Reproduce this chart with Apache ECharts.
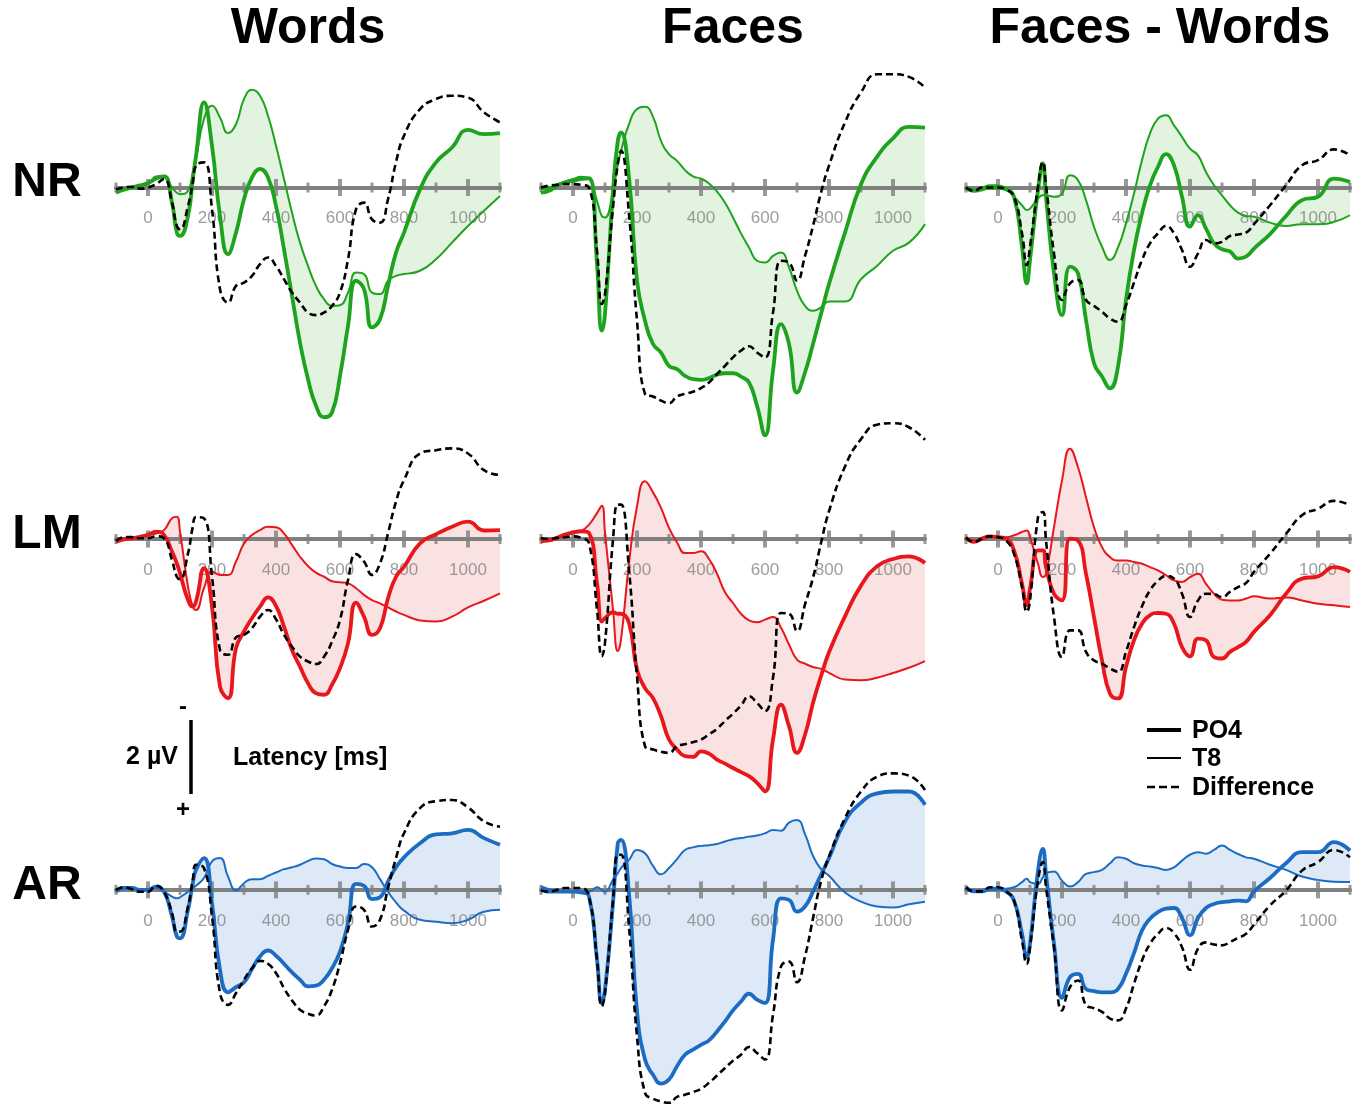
<!DOCTYPE html>
<html><head><meta charset="utf-8">
<script src="https://cdn.jsdelivr.net/npm/echarts@6/dist/echarts.min.js"></script>
<style>html,body{margin:0;padding:0;background:#fff}#c{width:1359px;height:1108px}</style>
</head><body><div id="c"></div><script>
// time points (ms)
const TIMES = [-100,-75,-50,-25,0,25,50,75,90,100,125,140,150,175,200,225,250,275,300,325,350,375,400,425,450,475,500,525,550,575,600,625,650,675,700,725,750,775,800,850,900,950,1000,1050,1100];
// values in microvolts (positive plotted downward)
const NR_WORDS_PO4 = [0.14,0.06,0,-0.06,-0.12,-0.24,-0.30,0.41,1.22,1.31,0.77,-0.23,-0.86,-2.30,-1.13,0.77,1.80,1.22,0.32,-0.27,-0.50,-0.27,0.50,1.67,2.93,4.19,5.18,5.90,6.21,6.08,5.09,3.74,2.52,2.75,3.78,3.56,2.66,1.76,1.22,0.05,-0.68,-1.08,-1.56,-1.44,-1.47];
const NR_WORDS_T8 = [0.12,0.05,0,-0.05,-0.09,-0.30,-0.32,0,0.14,0.18,0.09,-0.41,-0.77,-1.85,-2.21,-1.89,-1.47,-1.71,-2.39,-2.64,-2.48,-1.94,-1.13,-0.23,0.68,1.49,2.12,2.66,3.02,3.20,3.18,2.84,2.30,2.34,2.84,2.88,2.52,2.39,2.34,2.25,1.94,1.49,1.04,0.63,0.23];
const NR_WORDS_DIFF = [0.05,0,-0.02,0.03,0,-0.09,-0.23,0.41,1.04,1.13,0.50,-0.14,-0.59,-0.68,0.59,2.75,3.11,2.66,2.57,2.39,2.07,1.89,2.12,2.48,2.84,3.11,3.38,3.45,3.38,3.20,2.84,1.94,0.59,0.41,0.86,0.95,0.32,-0.68,-1.40,-2.12,-2.39,-2.48,-2.43,-2.03,-1.76];
const NR_FACES_PO4 = [0.14,0.09,-0.05,-0.14,-0.18,-0.23,-0.25,2.07,3.87,3.42,0.09,-1.26,-1.49,-0.27,2.52,3.60,4.23,4.46,4.82,4.91,5.09,5.18,5.20,5.15,5.06,5.02,5.02,5.11,5.27,5.90,6.70,4.95,3.69,4.23,5.54,5.00,4.23,3.42,2.61,1.22,-0.09,-0.83,-1.33,-1.64,-1.62];
const NR_FACES_T8 = [0.05,0,-0.09,-0.16,-0.23,-0.29,-0.23,0.36,0.77,0.81,0.09,-0.63,-0.99,-1.71,-2.12,-2.18,-1.91,-1.26,-0.90,-0.72,-0.47,-0.30,-0.24,-0.11,0.11,0.41,0.81,1.24,1.62,1.98,2.03,1.85,1.76,2.16,2.79,3.20,3.33,3.24,3.08,3.08,2.48,2.12,1.71,1.49,0.99];
const NR_FACES_DIFF = [0,-0.05,-0.07,-0.09,-0.09,-0.07,0,1.71,3.15,2.88,0.54,-0.63,-0.99,0.72,3.60,5.58,5.65,5.76,5.83,5.65,5.58,5.52,5.42,5.27,5.04,4.82,4.59,4.41,4.29,4.46,4.59,3.38,1.98,2.03,2.52,1.85,1.04,0.14,-0.59,-1.76,-2.57,-3.06,-3.06,-2.99,-2.70];
const NR_FW_PO4 = [0,0.09,0.05,0,0,0.05,0.25,1.60,2.59,1.96,0.07,-0.65,0.25,2.32,3.45,2.14,2.32,3.58,4.75,5.11,5.43,4.84,3.04,1.69,0.70,-0.06,-0.56,-0.90,-0.60,0.25,1.06,0.75,1.11,1.51,1.67,1.73,1.92,1.87,1.65,1.26,0.77,0.34,0.25,-0.24,-0.15];
const NR_FW_T8 = [0,0.07,0,-0.06,-0.06,0.03,0.25,0.48,0.61,0.57,0.30,0.21,0.21,0.25,0.16,-0.33,-0.20,0.34,1.06,1.60,1.96,1.62,0.97,0.16,-0.74,-1.46,-1.86,-1.95,-1.68,-1.37,-1.05,-0.87,-0.42,-0.06,0.21,0.48,0.68,0.77,0.79,0.95,1.04,0.99,0.99,0.93,0.75];
const NR_FW_DIFF = [0,0.09,0,0,0,0.05,0.25,1.24,2.10,1.60,-0.02,-0.69,-0.06,1.78,3.04,2.59,2.50,3.04,3.20,3.36,3.54,3.63,3.18,2.57,1.96,1.51,1.24,1.04,1.24,1.69,2.14,1.78,1.42,1.51,1.47,1.31,1.27,1.22,0.99,0.48,-0.06,-0.60,-0.74,-1.03,-0.87];
const LM_WORDS_PO4 = [0.07,0.01,-0.02,-0.06,-0.11,-0.20,-0.11,0.34,0.66,0.93,1.65,1.83,1.69,0.79,1.83,3.99,4.30,2.95,2.50,2.14,1.83,1.58,1.81,2.37,3.00,3.45,3.90,4.17,4.21,3.94,3.49,2.82,1.72,2.10,2.59,2.41,1.60,1.02,0.75,0.12,-0.13,-0.33,-0.47,-0.23,-0.24];
const LM_WORDS_T8 = [0.07,-0.02,-0.05,-0.06,-0.11,-0.15,-0.24,-0.56,-0.60,-0.20,1.29,1.83,1.92,1.33,0.88,0.97,0.97,0.61,0.12,-0.11,-0.24,-0.33,-0.32,-0.15,0.16,0.48,0.73,0.91,1.02,1.14,1.17,1.20,1.33,1.51,1.65,1.74,1.85,1.96,2.05,2.20,2.23,2.10,1.85,1.67,1.47];
const LM_WORDS_DIFF = [0.05,-0.05,-0.05,-0.02,-0.02,-0.08,-0.02,0.57,1.02,1.09,0.39,-0.33,-0.59,-0.56,1.02,3.00,3.13,2.66,2.59,2.41,2.10,1.92,2.17,2.59,2.91,3.18,3.31,3.38,3.18,2.77,2.19,1.11,0.41,0.61,0.97,0.66,-0.15,-1.01,-1.59,-2.31,-2.40,-2.45,-2.31,-1.86,-1.73];
const LM_FACES_PO4 = [0.06,0.04,-0.03,-0.12,-0.18,-0.21,-0.16,1.19,2.23,2.14,1.98,2.02,2.02,2.27,3.53,4.03,4.30,4.79,5.42,5.69,5.87,5.89,5.74,5.80,5.96,6.07,6.19,6.30,6.41,6.59,6.82,5.42,4.48,5.06,5.78,5.29,4.43,3.71,3.06,2.09,1.26,0.74,0.54,0.47,0.65];
const LM_FACES_T8 = [0.02,0,-0.05,-0.12,-0.16,-0.21,-0.39,-0.70,-0.90,-0.16,1.91,3.03,2.72,0.65,-0.88,-1.56,-1.26,-0.84,-0.30,0.09,0.38,0.38,0.33,0.54,0.94,1.44,1.73,2.02,2.20,2.25,2.18,2.11,2.40,2.85,3.26,3.37,3.46,3.51,3.62,3.80,3.82,3.75,3.62,3.48,3.30];
const LM_FACES_DIFF = [-0.03,0,-0.03,-0.05,-0.07,-0.03,0.11,1.91,3.17,2.81,0.02,-0.93,-0.93,0.83,3.71,5.60,5.69,5.75,5.78,5.60,5.55,5.49,5.42,5.28,5.13,4.92,4.72,4.50,4.25,4.43,4.65,3.75,2.00,2.02,2.49,1.77,1.05,0.11,-0.75,-1.96,-2.70,-3.09,-3.13,-3.02,-2.68];
const LM_FW_PO4 = [-0.04,0.08,-0.01,-0.07,-0.05,-0.01,0.31,1.21,1.79,1.34,0.31,0.31,0.76,1.48,1.66,-0.01,0.04,0.94,2.11,3.28,4.18,4.31,3.46,2.74,2.29,2.06,2.00,2.02,2.29,2.92,3.17,2.69,2.74,3.19,3.23,3.05,2.92,2.78,2.51,2.06,1.48,1.07,1.01,0.76,0.89];
const LM_FW_T8 = [-0.04,0.04,-0.01,-0.07,-0.05,-0.05,-0.10,-0.19,-0.23,-0.05,0.67,1.03,0.94,-0.32,-1.58,-2.44,-1.94,-1.13,-0.32,0.22,0.49,0.58,0.58,0.62,0.67,0.76,0.85,0.98,1.12,1.16,1.03,0.94,1.21,1.48,1.64,1.66,1.66,1.61,1.55,1.61,1.58,1.66,1.75,1.79,1.84];
const LM_FW_DIFF = [-0.04,0.08,-0.01,-0.07,-0.05,0.04,0.40,1.30,1.97,1.66,-0.59,-0.73,0.04,2.11,3.19,2.47,2.47,3.05,3.28,3.37,3.50,3.59,3.05,2.38,1.82,1.39,1.13,1.00,1.07,1.48,2.11,1.66,1.48,1.49,1.57,1.43,1.30,1.19,0.89,0.40,-0.14,-0.64,-0.82,-1.03,-0.91];
const AR_WORDS_PO4 = [0.05,-0.05,-0.05,0,0,-0.09,0.05,0.72,1.26,1.31,0.54,-0.18,-0.54,-0.86,0.36,2.16,2.77,2.63,2.50,2.14,1.80,1.64,1.78,2.00,2.23,2.43,2.61,2.59,2.43,2.12,1.67,0.90,-0.16,-0.11,0.25,0.20,-0.23,-0.61,-0.88,-1.26,-1.50,-1.53,-1.62,-1.40,-1.22];
const AR_WORDS_T8 = [0,-0.05,-0.05,0.02,0,-0.05,0.05,0.18,0.23,0.20,0.05,-0.05,-0.11,-0.32,-0.77,-0.86,-0.36,0.02,-0.18,-0.29,-0.29,-0.38,-0.47,-0.56,-0.61,-0.68,-0.78,-0.85,-0.83,-0.70,-0.63,-0.59,-0.59,-0.70,-0.61,-0.29,0.05,0.34,0.56,0.81,0.86,0.90,0.81,0.59,0.54];
const AR_WORDS_DIFF = [0,-0.07,-0.02,0.05,0.05,-0.11,0.05,0.63,1.13,1.13,0.45,-0.27,-0.68,-0.59,0.72,2.79,3.11,2.79,2.43,2.12,1.92,2.00,2.25,2.66,2.99,3.24,3.35,3.40,3.15,2.70,1.98,1.08,0.45,0.54,0.99,0.81,-0.05,-0.86,-1.53,-2.21,-2.40,-2.43,-2.23,-1.85,-1.71];
const AR_FACES_PO4 = [-0.05,0.05,0.05,0.05,0.05,0.07,0.18,1.89,3.06,2.70,0.36,-1.26,-1.35,0.09,3.29,4.59,5.00,5.24,5.13,4.77,4.46,4.32,4.19,4.07,3.83,3.56,3.26,3.02,2.81,2.97,3.06,1.35,0.23,0.27,0.59,0.45,0.05,-0.41,-0.86,-1.85,-2.36,-2.61,-2.66,-2.66,-2.30];
const AR_FACES_T8 = [-0.09,-0.02,0.03,0.05,0.05,0.05,0.05,-0.07,0,0.05,-0.27,-0.45,-0.59,-0.81,-1.08,-0.99,-0.65,-0.42,-0.59,-0.83,-1.08,-1.15,-1.19,-1.21,-1.24,-1.31,-1.37,-1.40,-1.44,-1.47,-1.53,-1.62,-1.60,-1.82,-1.89,-1.51,-0.92,-0.56,-0.38,0.07,0.32,0.45,0.48,0.39,0.32];
const AR_FACES_DIFF = [0.02,0.05,0,-0.05,-0.05,-0.05,0.18,1.89,3.15,2.79,0.27,-0.95,-0.95,0.99,3.96,5.49,5.65,5.72,5.76,5.60,5.54,5.47,5.38,5.22,5.02,4.82,4.62,4.46,4.25,4.41,4.59,3.38,2.07,1.94,2.50,1.80,0.77,-0.23,-0.90,-1.94,-2.66,-3.06,-3.15,-3.09,-2.70];
const AR_FW_PO4 = [-0.07,0.04,0.04,-0.03,-0.03,0.04,0.29,1.19,1.82,1.46,-0.52,-1.11,-0.43,1.46,2.92,2.36,2.27,2.68,2.74,2.77,2.77,2.68,2.27,1.71,1.10,0.78,0.60,0.51,0.49,0.76,1.23,0.76,0.49,0.38,0.33,0.31,0.29,0.31,0.04,-0.32,-0.72,-1.02,-1.02,-1.29,-1.06];
const AR_FW_T8 = [-0.03,0.04,0.02,-0.03,-0.03,-0.03,-0.07,-0.21,-0.30,-0.21,-0.16,-0.34,-0.45,-0.50,-0.25,-0.09,-0.21,-0.43,-0.48,-0.54,-0.72,-0.88,-0.84,-0.72,-0.66,-0.63,-0.59,-0.54,-0.61,-0.79,-0.95,-1.02,-0.98,-1.08,-1.20,-1.08,-0.97,-0.88,-0.84,-0.68,-0.54,-0.36,-0.27,-0.22,-0.21];
const AR_FW_DIFF = [-0.07,0.04,0.04,-0.07,-0.07,0.04,0.29,1.37,2.00,1.55,-0.25,-0.75,-0.07,1.55,3.26,2.63,2.45,3.12,3.20,3.30,3.48,3.53,3.21,2.54,1.91,1.46,1.19,1.03,1.17,1.55,2.16,1.59,1.42,1.48,1.50,1.41,1.30,1.19,0.94,0.42,0.02,-0.52,-0.75,-1.08,-0.88];

const ROW_NAMES = ['NR','LM','AR'];
const COL_NAMES = ['Words','Faces','Faces - Words'];
const TICK_LABELS = [0,200,400,600,800,1000];
const MAJOR_TICKS = [0,200,400,600,800,1000];
const MINOR_TICKS = [-100,100,300,500,700,900,1100];
const LEGEND_NAMES = ['PO4','T8','Difference'];

const PANELS = [
  [[NR_WORDS_PO4,NR_WORDS_T8,NR_WORDS_DIFF],[NR_FACES_PO4,NR_FACES_T8,NR_FACES_DIFF],[NR_FW_PO4,NR_FW_T8,NR_FW_DIFF]],
  [[LM_WORDS_PO4,LM_WORDS_T8,LM_WORDS_DIFF],[LM_FACES_PO4,LM_FACES_T8,LM_FACES_DIFF],[LM_FW_PO4,LM_FW_T8,LM_FW_DIFF]],
  [[AR_WORDS_PO4,AR_WORDS_T8,AR_WORDS_DIFF],[AR_FACES_PO4,AR_FACES_T8,AR_FACES_DIFF],[AR_FW_PO4,AR_FW_T8,AR_FW_DIFF]]
];
const ROW_COLORS = [
  {line:'#1ea31e', fill:'#e2f3e0'},
  {line:'#e8171c', fill:'#fbe2e2'},
  {line:'#1c6cc4', fill:'#dde9f6'}
];

const FONT = '"Liberation Sans", Arial, Helvetica, sans-serif';
const COL_LEFT = [116, 541, 966];
const ROW_ZERO = [187.5, 539, 890];
const PX_PER_UV = 37;
const Y_RANGE = [[-4.6,7.3],[-4.6,7.3],[-4.6,5.9]];
const PLOT_W = 384;

const grids=[], xAxes=[], yAxes=[], series=[];
const pairs = arr => TIMES.map((t,k)=>[t, arr[k]]);
// swapped pairs so that the value (y) is the first, stacked dimension
const swapped = arr => TIMES.map((t,k)=>[arr[k], t]);
const SM = 0.5;
for (let r=0;r<3;r++){
  for (let c=0;c<3;c++){
    const i = r*3+c;
    const [ymin,ymax] = Y_RANGE[r];
    grids.push({left:COL_LEFT[c], width:PLOT_W, top:ROW_ZERO[r]+ymin*PX_PER_UV, height:(ymax-ymin)*PX_PER_UV, containLabel:false});
    xAxes.push({gridIndex:i, type:'value', min:-100, max:1100, interval:100, z:3,
      axisLine:{onZero:true, lineStyle:{color:'#808080', width:4}},
      axisTick:{show:false}, splitLine:{show:false}, axisLabel:{show:false}
    });
    yAxes.push({gridIndex:i, type:'value', inverse:true, min:ymin, max:ymax, show:false, splitLine:{show:false}});
    const [po4,t8,diff] = PANELS[r][c];
    const col = ROW_COLORS[r];
    // fill between PO4 and T8 (stacked band)
    series.push({type:'line', xAxisIndex:i, yAxisIndex:i, data:swapped(po4), encode:{x:1, y:0}, stack:'band'+i, stackStrategy:'all',
      smooth:SM, symbol:'none', lineStyle:{opacity:0, width:0}, silent:true, z:1, clip:false});
    series.push({type:'line', xAxisIndex:i, yAxisIndex:i, data:TIMES.map((t,k)=>[t8[k]-po4[k], t]), encode:{x:1, y:0}, stack:'band'+i, stackStrategy:'all',
      smooth:SM, symbol:'none', lineStyle:{opacity:0, width:0}, areaStyle:{color:col.fill, opacity:1}, silent:true, z:1, clip:false});
    // axis ticks + labels
    series.push({type:'scatter', xAxisIndex:i, yAxisIndex:i, data:MAJOR_TICKS.map(t=>[t,0]), symbol:'rect', symbolSize:[4,17],
      itemStyle:{color:'#808080'}, silent:true, z:4, clip:false,
      label:{show:true, position:'bottom', distance:14, color:'#858585', fontSize:17, fontFamily:FONT,
        formatter: p => TICK_LABELS.includes(p.value[0]) ? String(p.value[0]) : ''}});
    series.push({type:'scatter', xAxisIndex:i, yAxisIndex:i, data:MINOR_TICKS.map(t=>[t,0]), symbol:'rect', symbolSize:[3,10],
      itemStyle:{color:'#808080'}, silent:true, z:4, clip:false});
    // T8 thin
    series.push({type:'line', name:'T8', xAxisIndex:i, yAxisIndex:i, data:pairs(t8), smooth:SM, symbol:'none',
      lineStyle:{color:col.line, width:2}, silent:true, z:5, clip:false});
    // PO4 thick
    series.push({type:'line', name:'PO4', xAxisIndex:i, yAxisIndex:i, data:pairs(po4), smooth:SM, symbol:'none',
      lineStyle:{color:col.line, width:3.8}, silent:true, z:6, clip:false});
    // Difference dashed
    series.push({type:'line', name:'Difference', xAxisIndex:i, yAxisIndex:i, data:pairs(diff), smooth:SM, symbol:'none',
      lineStyle:{color:'#000', width:2.6, type:[7,4]}, silent:true, z:7, clip:false});
  }
}

function txt(x,y,text,size,align,weight){
  return {type:'text', x:x, y:y, silent:true, z:100,
    style:{text:text, fill:'#000', font:(weight||'bold')+' '+size+'px '+FONT, align:align||'center', verticalAlign:'middle',
      textAlign:align||'center', textVerticalAlign:'middle'}};
}
function seg(x1,y1,x2,y2,w,dash){
  const st = {stroke:'#000', lineWidth:w};
  if (dash) st.lineDash = dash;
  return {type:'line', silent:true, z:100, shape:{x1:x1,y1:y1,x2:x2,y2:y2}, style:st};
}
const TITLE_X = [308, 733, 1160];
const ROW_LABEL_Y = [183, 535, 886];
const graphic = [];
COL_NAMES.forEach((n,c)=>graphic.push(txt(TITLE_X[c], 29, n, 50)));
ROW_NAMES.forEach((n,r)=>graphic.push(txt(47, ROW_LABEL_Y[r], n, 48)));
// scale bar
graphic.push(seg(191,720,191,794,3.5));
graphic.push(txt(183, 707, '-', 24));
graphic.push(txt(183, 810, '+', 24));
graphic.push(txt(178, 757, '2 µV', 25, 'right'));
graphic.push(txt(233, 758, 'Latency [ms]', 25, 'left'));
// legend
const LEG_Y = [730, 758, 787];
graphic.push(seg(1147,LEG_Y[0],1181,LEG_Y[0],3.8));
graphic.push(seg(1147,LEG_Y[1],1181,LEG_Y[1],2.2));
graphic.push(seg(1147,LEG_Y[2],1183,LEG_Y[2],2.6,[8,4]));
LEGEND_NAMES.forEach((n,k)=>graphic.push(txt(1192, LEG_Y[k]+1, n, 25, 'left')));

const chart = echarts.init(document.getElementById('c'), null, {renderer:'canvas'});
chart.setOption({animation:false, backgroundColor:'#fff', grid:grids, xAxis:xAxes, yAxis:yAxes, series:series, graphic:{elements:graphic}});
</script></body></html>
